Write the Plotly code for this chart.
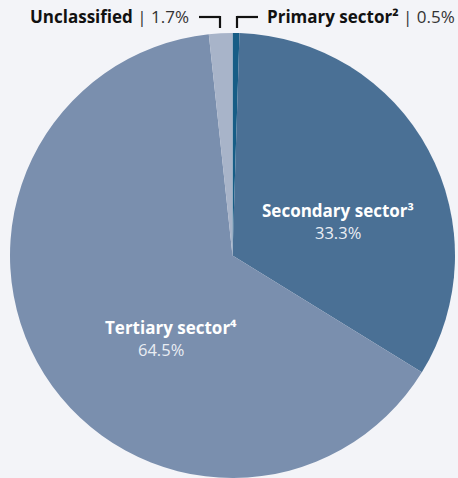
import plotly.graph_objects as go

labels = ["Primary sector²", "Secondary sector³", "Tertiary sector⁴", "Unclassified"]
values = [0.5, 33.3, 64.5, 1.7]
colors = ["#175d86", "#4a7095", "#7a8fae", "#a8b4c9"]

W, H = 458, 478
cx, cy, r = 232.5, 255.5, 222.5

fig = go.Figure(go.Pie(
    labels=labels, values=values, sort=False, direction="clockwise", rotation=0,
    marker=dict(colors=colors, line=dict(width=0)),
    textinfo="none", hoverinfo="skip", showlegend=False,
    domain=dict(x=[(cx - r) / W, (cx + r) / W], y=[(H - cy - r) / H, (H - cy + r) / H]),
))

FONT = "Open Sans"

def ann(x, y, text, size, color, anchor="center"):
    fig.add_annotation(x=x / W, y=1 - y / H, xref="paper", yref="paper", text=text,
                       showarrow=False, xanchor=anchor, yanchor="middle",
                       font=dict(family=FONT, size=size, color=color))

ann(338, 210, "<b>%s</b>" % labels[1], 17, "#ffffff")
ann(338, 232.5, "%.1f%%" % values[1], 16.5, "#e9edf3")
ann(171, 327, "<b>%s</b>" % labels[2], 17, "#ffffff")
ann(161, 349.5, "%.1f%%" % values[2], 16.5, "#e9edf3")

ann(191, 17, "<b>%s</b> <span style='color:#333'>| %.1f%%</span>" % (labels[3], values[3]), 17, "#111111", "right")
ann(265, 17, "<b>%s</b> <span style='color:#333'>| %.1f%%</span>" % (labels[0], values[0]), 17, "#111111", "left")

def seg(x0, y0, x1, y1):
    fig.add_shape(type="line", xref="paper", yref="paper",
                  x0=x0 / W, y0=1 - y0 / H, x1=x1 / W, y1=1 - y1 / H,
                  line=dict(color="#111111", width=2.2))

seg(199, 17, 220, 17)
seg(220, 16, 220, 28)
seg(237, 17, 258, 17)
seg(237, 16, 237, 28)

fig.update_layout(width=W, height=H, margin=dict(l=0, r=0, t=0, b=0),
                  paper_bgcolor="#f3f4f8", plot_bgcolor="#f3f4f8")
fig.write_html("out.html", config={"displayModeBar": False},
               post_script="document.body.style.margin='0';document.body.style.background='#f3f4f8';document.body.style.overflow='hidden';")
